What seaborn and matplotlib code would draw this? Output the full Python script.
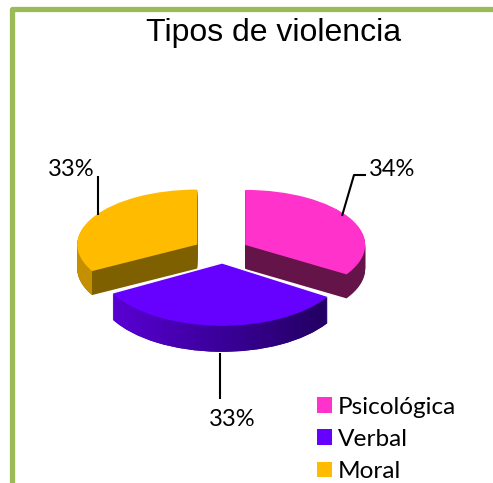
import numpy as np
import matplotlib
matplotlib.use("Agg")
import matplotlib.pyplot as plt
from matplotlib.colors import LinearSegmentedColormap
from matplotlib.lines import Line2D
from matplotlib.patches import Patch
from matplotlib.transforms import Affine2D
import seaborn as sns

title = "Tipos de violencia"
categories = ["Psicológica", "Verbal", "Moral"]
values = [34, 33, 33]
top_colors = ["#ff33cc", "#6600ff", "#ffbb00"]
cut_colors = ["#641448", "#3a0099", "#7f6000"]
moral_outer = "#c49000"
verbal_side = ["#5a00d4", "#3a0099", "#220060"]

sns.set_theme(style="white")
plt.rcParams["font.family"] = ["Lato", "DejaVu Sans"]

W, H = 493, 483
fig = plt.figure(figsize=(W / 100, H / 100), dpi=100, facecolor="white")
ax = fig.add_axes([0, 0, 1, 1])

# Pie geometry on the page, in pixels
CX, CY, RX, RY = 221, 251, 120, 55
DEPTH_BACK, DEPTH_FRONT = 24, 26
EXPLODE = 0.23
NEAR_X, NEAR_Y = 1.04, 1.13  # the front slice is nearer, so it looks larger
dx = lambda px: (px - CX) / RX
dy = lambda py: (CY - py) / RY


def draw_pie(offset, colors, zorder):
    wedges, _ = ax.pie(values, colors=colors, startangle=90, counterclock=False,
                       explode=[EXPLODE] * len(values), center=(0, -offset / RY),
                       radius=1, wedgeprops=dict(linewidth=0, zorder=zorder))
    c = wedges[1].center
    wedges[1].set_transform(Affine2D().translate(-c[0], -c[1]).scale(NEAR_X, NEAR_Y)
                            .translate(c[0] + 2 / RX, c[1]) + ax.transData)
    return wedges


gradient = LinearSegmentedColormap.from_list("side", verbal_side)
for d in range(DEPTH_FRONT, 0, -1):
    w = draw_pie(d, cut_colors, 1)
    # shaded outer wall of the front slice
    im = ax.imshow(np.linspace(0, 1, 256)[None, :], cmap=gradient, aspect="auto",
                   extent=(dx(112), dx(330), -3, 3), zorder=1.5)
    im.set_clip_path(w[1])
    if d > DEPTH_BACK:
        w[0].set_visible(False)
        w[2].set_visible(False)
        continue
    # lighter outer wall of the left slice, up to where its arc ends
    end_x = w[2].center[0] + np.cos(np.radians(w[2].theta2)) * w[2].r
    span = ax.axvspan(-3, end_x, color=moral_outer, lw=0, zorder=1.2)
    span.set_clip_path(w[2])

top = draw_pie(0, top_colors, 3)

ax.set_aspect("auto")
ax.set_xlim(dx(0), dx(W))
ax.set_ylim(dy(H), dy(0))
ax.axis("off")

# Leader lines
line_kw = dict(color="black", lw=1.5, solid_capstyle="butt", zorder=4)
ax.plot([dx(342), dx(354), dx(366)], [dy(216), dy(175), dy(175)], **line_kw)
ax.plot([dx(220), dx(220)], [dy(353), dy(399)], **line_kw)
ax.plot([dx(98), dx(98)], [dy(215), dy(176)], **line_kw)

label_xy = [(392, 169), (232, 419), (71, 169)]
for v, (px, py) in zip(values, label_xy):
    ax.text(dx(px), dy(py), f"{v}%", ha="center", va="center", fontsize=17, color="black")

fig.text(273.5 / W, 1 - 33.5 / H, title, ha="center", va="center", fontsize=23,
         family=["Liberation Sans"], color="black")

# Green frame: top and left edges only
frame_kw = dict(color="#9bbb59", lw=3.8, solid_capstyle="round", solid_joinstyle="round",
                transform=fig.transFigure)
fig.add_artist(Line2D([1.01, 11.5 / W, 11.5 / W], [1 - 8.5 / H, 1 - 8.5 / H, -0.01], **frame_kw))

handles = [Patch(facecolor=c, edgecolor="none", label=n) for c, n in zip(top_colors, categories)]
fs = 17.6
ax.legend(handles=handles, loc="lower left", bbox_to_anchor=(317 / W, 1 - 482 / H),
          bbox_transform=fig.transFigure, frameon=False, fontsize=fs, borderpad=0,
          borderaxespad=0, handlelength=10.8 / fs, handleheight=10.8 / fs,
          handletextpad=6 * 0.72 / fs, labelspacing=0.46, labelcolor="black")

fig.savefig("out.png", dpi=100, facecolor="white")
